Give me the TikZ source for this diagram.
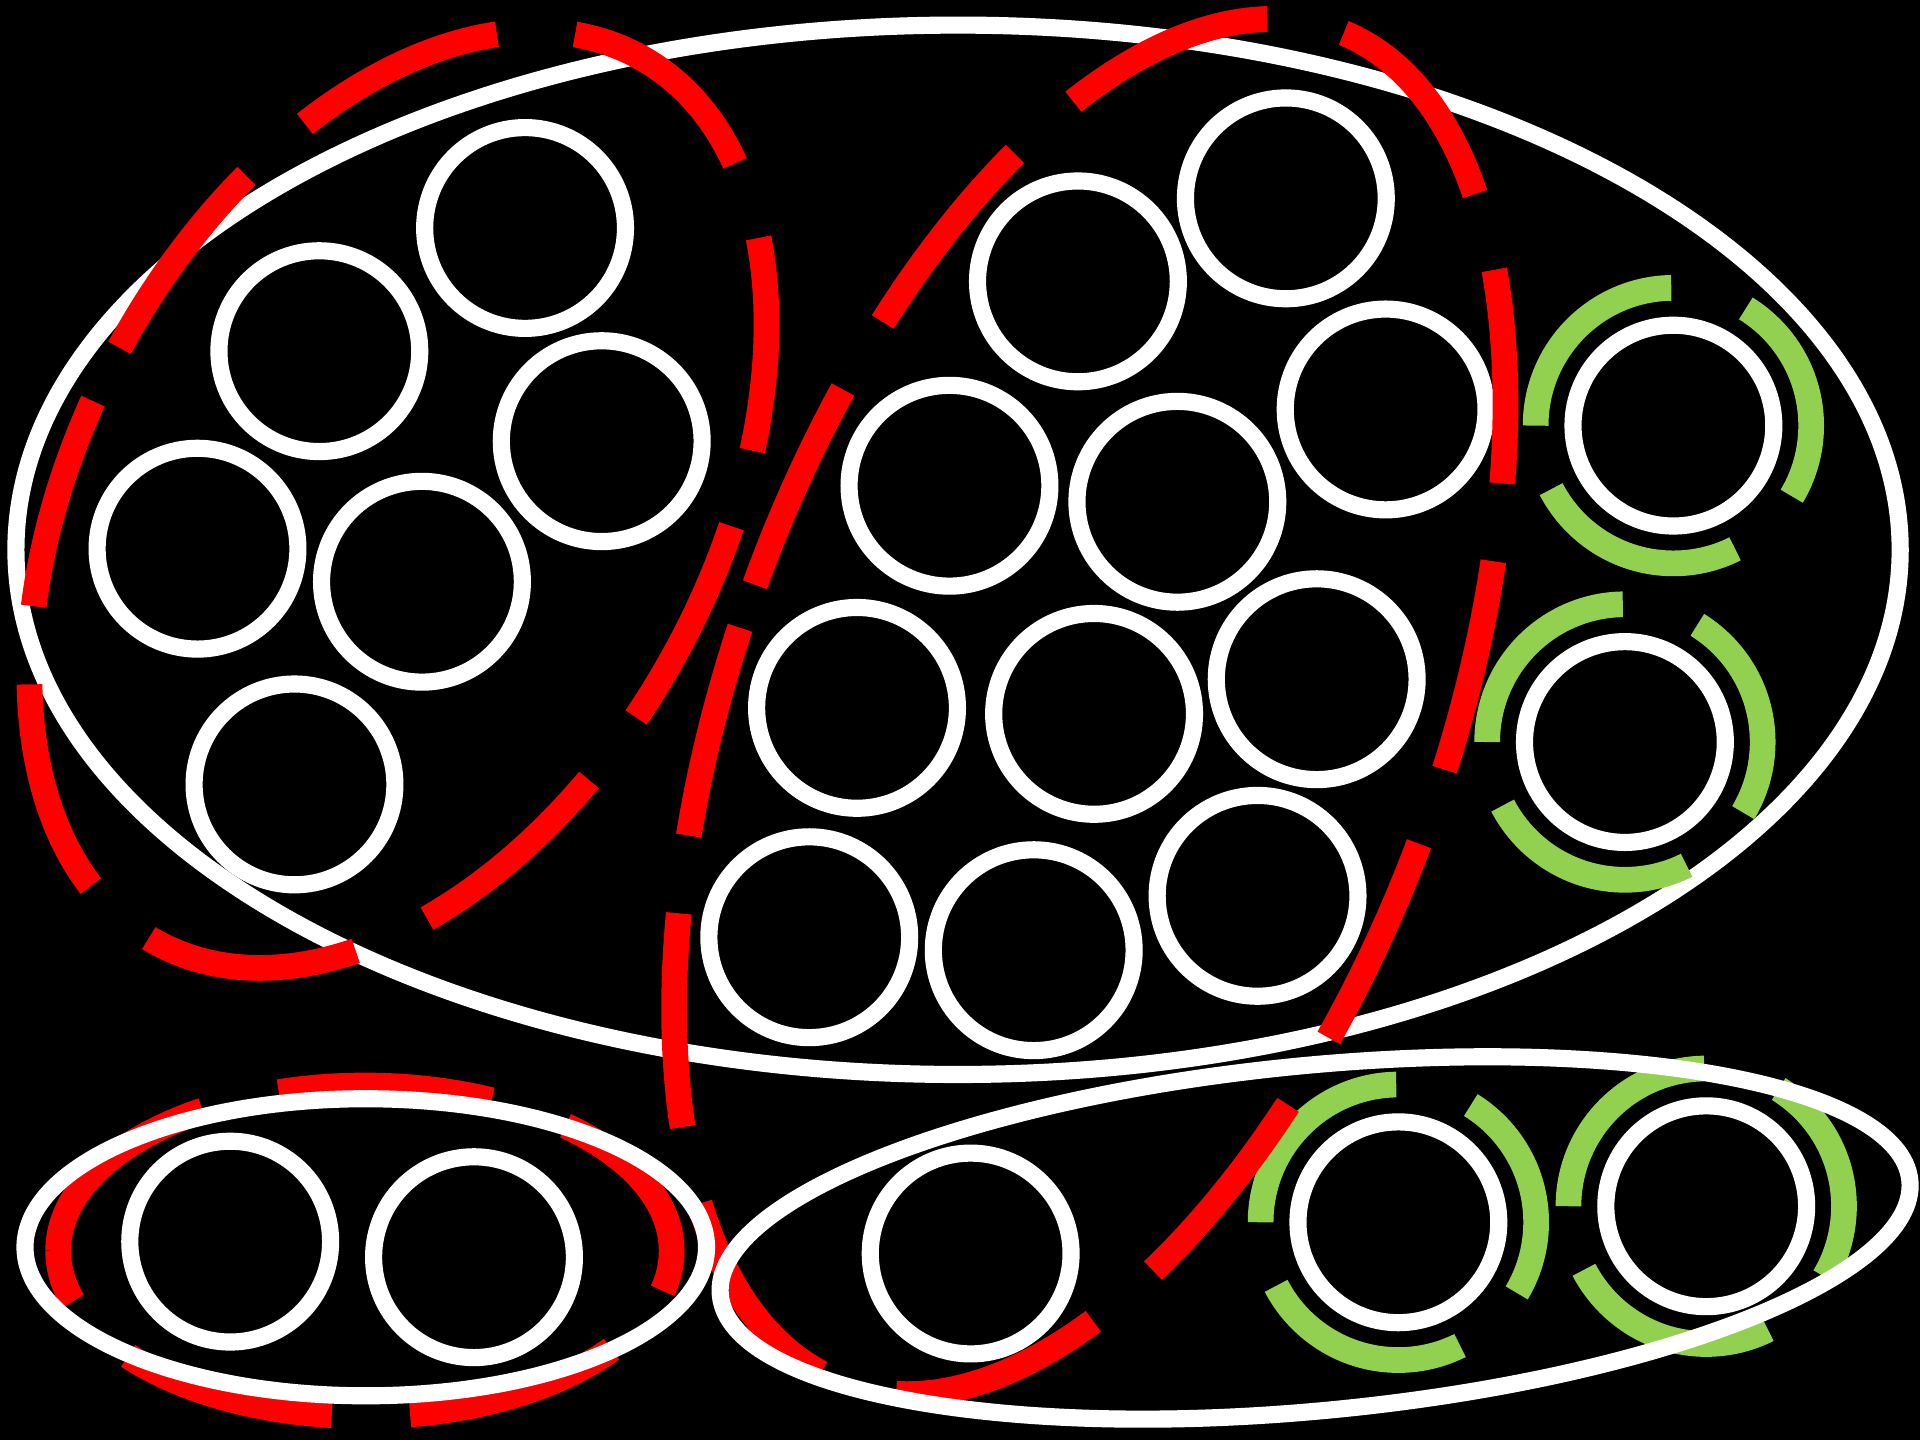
\documentclass[tikz,border=0pt]{standalone}
\definecolor{grn}{RGB}{146,208,80}
\definecolor{rd}{RGB}{255,0,0}
\begin{document}
\begin{tikzpicture}[x=1pt,y=1pt,
  ring/.style={circle, draw=white, line width=14pt, inner sep=0pt, minimum size=164pt},
  hull/.style={draw=white, line width=14pt},
  reddash/.style={draw=rd, line width=21pt, dash pattern=on 175pt off 64pt},
  greendash/.style={draw=grn, line width=21pt, dash pattern=on 175pt off 64pt}]
\fill[black] (0,0) rectangle (1568,1176);
\useasboundingbox (0,0) rectangle (1568,1176);
% big container
\draw[hull] (782.4,727) ellipse [x radius=769.4, y radius=428.5];
% white rings
\node[ring] (c1) at (428.8,989.8) {};
\node[ring] (c2) at (260.8,889.2) {};
\node[ring] (c3) at (491.4,815.7) {};
\node[ring] (c4) at (161.3,727.9) {};
\node[ring] (c5) at (344.6,700.9) {};
\node[ring] (c6) at (240.5,535.4) {};
\node[ring] (c7) at (880.3,946.2) {};
\node[ring] (c8) at (1050.1,1014) {};
\node[ring] (c9) at (1131.6,841.6) {};
\node[ring] (c10) at (775.4,779.3) {};
\node[ring] (c11) at (961.5,766.2) {};
\node[ring] (c12) at (699.9,597.9) {};
\node[ring] (c13) at (893.5,593) {};
\node[ring] (c14) at (1075.3,621.3) {};
\node[ring] (c15) at (660.9,410.6) {};
\node[ring] (c16) at (844.2,400) {};
\node[ring] (c17) at (1027,444.4) {};
\node[ring] (c18) at (1366.6,828.4) {};
\node[ring] (c19) at (1327,570) {};
\node[ring] (c20) at (188,162) {};
\node[ring] (c21) at (387.1,149.3) {};
\node[ring] (c22) at (792.7,152.3) {};
\node[ring] (c23) at (1142,177.8) {};
\node[ring] (c24) at (1393.4,190.9) {};
% green dashed halos
\foreach \n in {18,19,23,24}
  \draw[greendash] (c\n) ++(-112.5,0) arc[start angle=180, delta angle=-360, radius=112.5];
% red dashed groups
\begin{scope}[shift={(325,768)}, rotate=61.4]
  \draw[reddash] (0,259) arc[start angle=90, delta angle=-360, x radius=412, y radius=259];
\end{scope}
\begin{scope}[shift={(890,599)}, rotate=70]
  \draw[reddash] (0,291) arc[start angle=90, delta angle=-360, x radius=588, y radius=291];
\end{scope}
\draw[reddash] (47.5,154.5) arc[start angle=180, delta angle=-360, x radius=250.5, y radius=135];
% lower containers
\draw[hull] (298.7,157.4) ellipse [x radius=278.3, y radius=121.3];
\draw[hull, rotate around={5.5:(1074,165)}] (1074,165) ellipse [x radius=488, y radius=141];
\end{tikzpicture}
\end{document}
